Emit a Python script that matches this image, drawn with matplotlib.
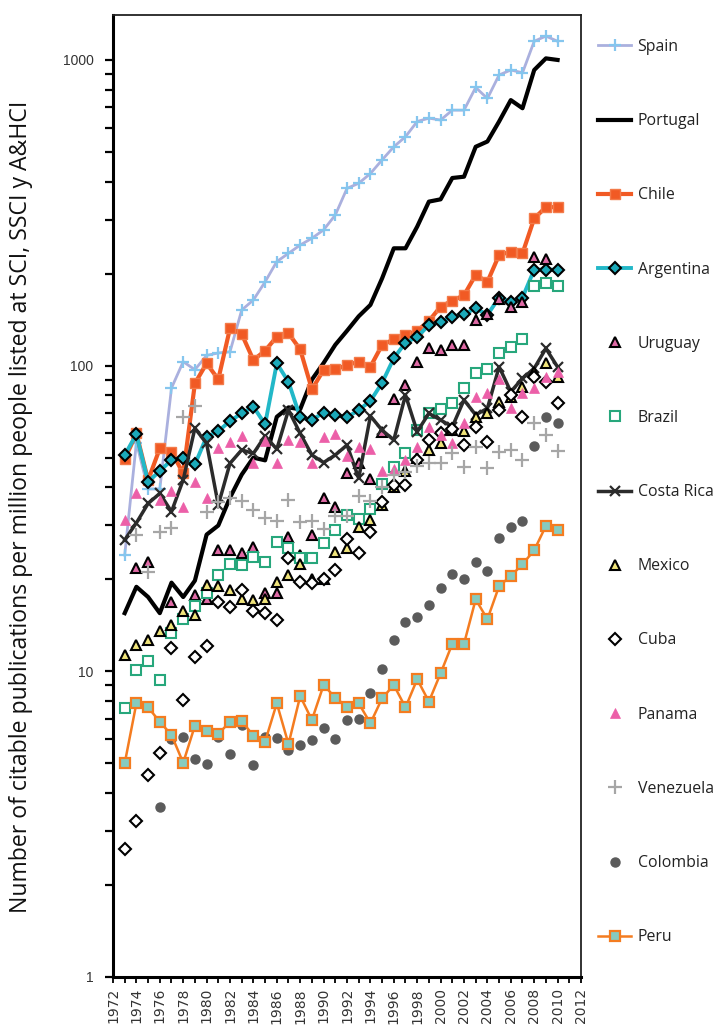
import numpy as np
import matplotlib
matplotlib.use("Agg")
import matplotlib.pyplot as plt
from matplotlib.ticker import FixedLocator, NullFormatter, LogLocator

nan = np.nan
years = list(range(1973, 2011))

spain = [24, 56, 39.5, 39.5, 84.5, 103, 97, 108, 110, 111,
         152, 164, 188, 219, 233, 248, 261, 278, 311, 380,
         395, 425, 471, 520, 561, 629, 645, 636, 685, 685,
         813, 748, 893, 927, 908, 1151, 1197, 1151]
portugal = [15.5, 18.9, 17.5, 15.5, 19.5, 17.5, 19.8, 28, 30, 37,
            44, 50, 49, 68, 73, 72, 90, 102, 117, 130,
            145, 158, 193, 242, 242, 285, 344, 350, 411, 415,
            520, 541, 629, 739, 695, 927, 1012, 1000]
chile = [49.4, 60, 42.2, 53.6, 52.3, 44.4, 87.5, 101.7, 90.2, 132.5,
         126.9, 104.3, 111.9, 124.4, 127.6, 113, 83.6, 96.8, 97.2, 100.4,
         103, 99.2, 116.8, 121.9, 126, 130, 140, 156, 163, 170,
         198, 188, 230, 236, 233, 303, 330, 330]
argentina = [51, 59.6, 41.7, 45.2, 49.1, 49.8, 47.5, 58.5, 61, 65.9,
             69.8, 73.4, 64.3, 101.7, 88.5, 67.7, 66.4, 70.2, 68.9, 67.7,
             71.6, 76.6, 87.9, 105.7, 119, 124, 135.8, 139, 144.6, 147.5,
             154, 146.5, 167, 162, 167, 206, 206, 206]
uruguay = [nan, 21.7, 22.8, nan, 16.8, nan, 17.8, 17.3, 25, 25,
           24.3, 25.6, 18, 18, 27.6, 24, 28, 36.8, 34.4, 44.5,
           48, 42.5, 60.8, 77.5, 86.4, 103, 114, 112.5, 117, 117,
           141, 148, 165, 155, 162, 226, 223, nan]
brazil = [7.57, 10.1, 10.8, 9.37, 13.3, 14.8, 16.3, 18.1, 20.6, 22.5,
          22.3, 23.7, 22.8, 26.4, 25.4, 23.4, 23.5, 26.3, 29, 32.5,
          31.4, 34, 41, 46.5, 51.9, 61.5, 70.2, 71.9, 75.3, 84.3,
          94.8, 97.3, 110, 114.8, 121.9, 182, 187, 182]
costa_rica = [26.9, 30.6, 35.4, 38.2, 33.3, 42.3, 62.4, 55.7, 35, 47.9,
              53, 51.6, 58.9, 53.3, 71.6, 60, 51, 48.2, 51, 55,
              42.8, 68.4, 61.5, 57.1, 80.1, 60.8, 69.8, 66.4, 63.1, 77.2,
              69, 72.5, 99.1, 82.2, 90.8, 98, 113.8, 99]
mexico = [11.3, 12.2, 12.7, 13.5, 14.2, 15.7, 15.3, 19.2, 19, 18.5,
          17.3, 17.1, 17.3, 19.6, 20.7, 22.5, 20.1, 20.1, 24.6, 25.3,
          29.7, 31.2, 35, 40, 45.3, 50, 53, 55.7, 61.5, 61.2,
          67.7, 70, 76.2, 79.1, 85, 95, 101.7, 92]
cuba = [2.62, 3.24, 4.58, 5.42, 11.9, 8.06, 11.1, 12.1, 16.8, 16.2,
        18.5, 15.7, 15.5, 14.7, 23.4, 19.6, 19.5, 20, 21.4, 27,
        24.3, 28.6, 35.8, 40.7, 40.7, 49.1, 57.1, 60, 62, 55,
        63, 56.4, 71.6, 80, 67.7, 92, 88.5, 75.6]
panama = [31.3, 38.4, nan, 36.3, 38.9, 34.5, 41.7, 37, 53.6, 56.4,
          59, 48.2, 56.5, 47.9, 57, 56.4, 48, 58.5, 59.6, 50.6,
          54.2, 53.3, 45.2, 46, 49.1, 54.3, 63.1, 59.3, 56, 64.7,
          79, 81.1, 90.2, 72.5, 81.5, 84.3, 92, 95.5]
venezuela = [nan, 28, 21.2, 28.5, 29.4, 67.8, 73.6, 33.2, 35.8, 36.8,
             36, 33.7, 31.7, 31.1, 36.4, 30.8, 31.1, 29.2, 32.1, 32.1,
             37.4, 36, 40, 44, 45, 47, 47.9, 48, 51.6, 46.7,
             54.3, 46.1, 52.3, 53, 49.3, 64.7, 59.3, 52.7]
colombia = [nan, nan, nan, 3.61, 6.0, 6.11, 5.15, 4.97, 6.1, 5.36,
            6.67, 4.94, 6.11, 6.07, 5.53, 5.76, 5.96, 6.51, 5.99, 6.93,
            6.96, 8.51, 10.2, 12.7, 14.5, 15, 16.5, 18.8, 20.8, 20.1,
            22.7, 21.3, 27.4, 29.6, 31, 54.6, 68, 64.7]
peru = [5.0, 7.86, 7.62, 6.84, 6.19, 5.02, 6.64, 6.38, 6.24, 6.84,
        6.9, 6.14, 5.89, 7.86, 5.78, 8.3, 6.93, 9.02, 8.2, 7.66,
        7.86, 6.76, 8.16, 9.02, 7.62, 9.42, 7.96, 9.85, 12.3, 12.3,
        17.2, 14.8, 19, 20.5, 22.4, 24.9, 29.9, 29.1]

x_tick_years = list(range(1972, 2013, 2))
y_ticks = [1, 10, 100, 1000]
y_label = "Number of citable publications per million people listed at SCI, SSCI y A&HCI"

W, H = 721, 1031
fig = plt.figure(figsize=(W / 100, H / 100), dpi=100)
ax = fig.add_axes([113 / W, 1 - 977 / H, 468 / W, 962 / H])

series = [
    ("Spain", spain, dict(color="#aab0de", lw=2.0, marker="+", ms=9, mew=1.6,
                          mec="#86c6ee")),
    ("Portugal", portugal, dict(color="black", lw=3.0, marker=None)),
    ("Chile", chile, dict(color="#f15a24", lw=3.0, marker="s", ms=6.5,
                          mfc="#f15a24", mec="#f37b4a", mew=1.0)),
    ("Argentina", argentina, dict(color="#22b8c8", lw=2.8, marker="D", ms=6.5,
                                  mfc="#1ba9b9", mec="black", mew=1.5)),
    ("Uruguay", uruguay, dict(ls="none", marker="^", ms=7, mfc="#e06aa6",
                              mec="black", mew=1.5)),
    ("Brazil", brazil, dict(ls="none", marker="s", ms=7, mfc="white",
                            mec="#27a77c", mew=1.5)),
    ("Costa Rica", costa_rica, dict(color="#2b2b2b", lw=2.5, marker="x", ms=7,
                                    mew=1.6, mec="#2b2b2b")),
    ("Mexico", mexico, dict(ls="none", marker="^", ms=7, mfc="#f0e47a",
                            mec="black", mew=1.5)),
    ("Cuba", cuba, dict(ls="none", marker="D", ms=6.5, mfc="white",
                        mec="black", mew=1.5)),
    ("Panama", panama, dict(ls="none", marker="^", ms=7, mfc="#ec5fa8",
                            mec="#ec5fa8", mew=0.5)),
    ("Venezuela", venezuela, dict(ls="none", marker="+", ms=10, mew=1.6,
                                  mec="#a6a6a6")),
    ("Colombia", colombia, dict(ls="none", marker="o", ms=6.5, mfc="#5b5b5b",
                                mec="#5b5b5b")),
    ("Peru", peru, dict(color="#f47c20", lw=1.8, marker="s", ms=7,
                        mfc="#86cbbf", mec="#f47c20", mew=1.6)),
]

handles = []
for name, vals, st in series:
    h, = ax.plot(years, vals, label=name, **st)
    handles.append(h)

ax.set_yscale("log")
ax.set_ylim(1, 1403)
ax.set_xlim(1972, 2012)

ax.yaxis.set_major_locator(FixedLocator(y_ticks))
ax.set_yticklabels([str(v) for v in y_ticks])
ax.yaxis.set_minor_locator(LogLocator(base=10, subs=np.arange(2, 10)))
ax.yaxis.set_minor_formatter(NullFormatter())

ax.xaxis.set_major_locator(FixedLocator(x_tick_years))
ax.set_xticklabels([str(y) for y in x_tick_years], rotation=90)
ax.xaxis.set_minor_locator(FixedLocator(list(range(1972, 2013))))

ax.tick_params(axis="y", which="both", direction="out", length=6, width=1.6,
               color="black", labelsize=10, pad=8)
ax.tick_params(axis="x", which="both", direction="out", length=4, width=1.3,
               color="black", labelsize=10, pad=4)
for lab in ax.get_yticklabels():
    lab.set_family("Liberation Sans")
    lab.set_color("#333333")
for lab in ax.get_xticklabels():
    lab.set_family("DejaVu Sans")
    lab.set_color("#333333")

for s in ("left", "bottom"):
    ax.spines[s].set_linewidth(2.2)
    ax.spines[s].set_color("black")
for s in ("top", "right"):
    ax.spines[s].set_linewidth(1.3)
    ax.spines[s].set_color("#222222")

ax.set_ylabel(y_label, fontsize=16.6, family="Open Sans", color="#111111")
ax.yaxis.set_label_coords((33 - 113) / 468, (977 - 507) / 962)

leg = fig.legend(handles=handles, loc="upper left",
                 bbox_to_anchor=(598 / W, 1 - 39 / H), frameon=False,
                 prop={"family": "Open Sans", "size": 11.4},
                 numpoints=1, handlelength=2.1, handletextpad=0.4,
                 labelspacing=3.675, borderpad=0, borderaxespad=0)
for t in leg.get_texts():
    t.set_color("#222222")

fig.savefig("out.png", dpi=100)
